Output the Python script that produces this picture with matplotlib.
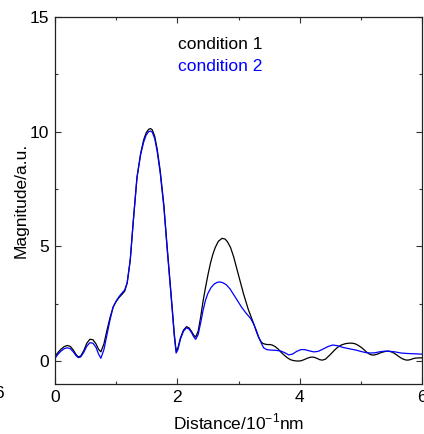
import matplotlib
matplotlib.use("Agg")
import matplotlib.pyplot as plt
from matplotlib.ticker import MultipleLocator

plt.rcParams['font.family'] = ['Liberation Sans', 'DejaVu Sans']
plt.rcParams['mathtext.fontset'] = 'custom'
plt.rcParams['mathtext.rm'] = 'Liberation Sans'

# condition 1 (black)
x1 = [0.00, 0.05, 0.10, 0.15, 0.20, 0.25, 0.30, 0.34, 0.38, 0.42, 0.47, 0.52, 0.57,
      0.62, 0.67, 0.71, 0.75, 0.80, 0.85, 0.90, 0.95, 1.00, 1.05, 1.10, 1.14, 1.18,
      1.23, 1.28, 1.34, 1.40, 1.45, 1.49, 1.53, 1.56, 1.59, 1.63, 1.67, 1.72, 1.78,
      1.83, 1.88, 1.92, 1.95, 1.98, 2.01, 2.05, 2.10, 2.15, 2.19, 2.23, 2.27, 2.30,
      2.34, 2.38, 2.42, 2.46, 2.50, 2.54, 2.58, 2.62, 2.67, 2.73, 2.78, 2.82, 2.87,
      2.92, 2.96, 3.00, 3.04, 3.08, 3.12, 3.16, 3.21, 3.25, 3.29, 3.33, 3.36, 3.39,
      3.43, 3.47, 3.51, 3.55, 3.60, 3.65, 3.69, 3.75, 3.80, 3.85, 3.90, 3.96, 4.02,
      4.08, 4.13, 4.18, 4.23, 4.28, 4.33, 4.37, 4.42, 4.50, 4.56, 4.62, 4.68, 4.75,
      4.81, 4.86, 4.91, 4.96, 5.01, 5.05, 5.09, 5.13, 5.17, 5.21, 5.27, 5.33, 5.40,
      5.46, 5.52, 5.58, 5.63, 5.68, 5.73, 5.77, 5.82, 5.86, 5.90, 5.95, 6.00]
y1 = [0.20, 0.38, 0.52, 0.63, 0.68, 0.64, 0.48, 0.30, 0.18, 0.22, 0.45, 0.78, 0.95,
      0.93, 0.75, 0.52, 0.40, 0.75, 1.35, 1.90, 2.35, 2.60, 2.78, 2.92, 3.05, 3.40,
      4.40, 6.10, 8.00, 9.05, 9.65, 9.95, 10.10, 10.14, 10.08, 9.80, 9.25, 8.30, 6.80,
      5.10, 3.50, 2.20, 1.20, 0.45, 0.58, 1.00, 1.35, 1.50, 1.45, 1.30, 1.12, 1.05,
      1.30, 1.90, 2.60, 3.20, 3.75, 4.25, 4.65, 4.95, 5.22, 5.35, 5.32, 5.20, 4.95,
      4.55, 4.15, 3.75, 3.35, 2.95, 2.60, 2.25, 1.90, 1.62, 1.30, 1.02, 0.88, 0.78,
      0.74, 0.72, 0.72, 0.70, 0.63, 0.52, 0.40, 0.25, 0.14, 0.06, 0.02, 0.00, 0.01,
      0.07, 0.13, 0.17, 0.17, 0.12, 0.06, 0.04, 0.08, 0.28, 0.45, 0.60, 0.70, 0.76,
      0.78, 0.78, 0.75, 0.68, 0.59, 0.50, 0.40, 0.32, 0.27, 0.26, 0.30, 0.37, 0.42,
      0.43, 0.38, 0.28, 0.18, 0.10, 0.05, 0.04, 0.07, 0.11, 0.13, 0.14, 0.14]

# condition 2 (blue)
x2 = [0.00, 0.05, 0.10, 0.15, 0.20, 0.25, 0.30, 0.34, 0.38, 0.42, 0.47, 0.52, 0.57,
      0.62, 0.67, 0.71, 0.75, 0.80, 0.85, 0.90, 0.95, 1.00, 1.05, 1.10, 1.14, 1.18,
      1.23, 1.28, 1.34, 1.40, 1.45, 1.49, 1.53, 1.56, 1.59, 1.63, 1.67, 1.72, 1.78,
      1.83, 1.88, 1.92, 1.95, 1.98, 2.01, 2.05, 2.10, 2.15, 2.19, 2.23, 2.27, 2.30,
      2.34, 2.38, 2.42, 2.46, 2.50, 2.55, 2.60, 2.65, 2.69, 2.74, 2.80, 2.86, 2.92,
      2.98, 3.05, 3.12, 3.20, 3.25, 3.29, 3.33, 3.37, 3.41, 3.46, 3.52, 3.60, 3.69,
      3.76, 3.82, 3.88, 3.95, 4.02, 4.08, 4.15, 4.23, 4.30, 4.38, 4.46, 4.54, 4.62,
      4.70, 4.77, 4.84, 4.92, 5.00, 5.08, 5.16, 5.23, 5.30, 5.38, 5.46, 5.56, 5.66,
      5.76, 5.85, 5.93, 6.00]
y2 = [0.12, 0.30, 0.44, 0.54, 0.58, 0.54, 0.40, 0.25, 0.15, 0.18, 0.38, 0.65, 0.80,
      0.78, 0.60, 0.32, 0.12, 0.50, 1.15, 1.80, 2.35, 2.62, 2.82, 2.98, 3.10, 3.42,
      4.40, 6.10, 8.00, 9.00, 9.55, 9.85, 10.00, 10.03, 9.98, 9.70, 9.15, 8.20, 6.70,
      5.00, 3.40, 2.10, 1.10, 0.35, 0.50, 0.95, 1.30, 1.45, 1.40, 1.25, 1.05, 0.95,
      1.15, 1.65, 2.20, 2.65, 2.95, 3.20, 3.35, 3.43, 3.45, 3.42, 3.33, 3.15, 2.90,
      2.65, 2.35, 2.10, 1.85, 1.60, 1.35, 1.05, 0.80, 0.58, 0.50, 0.48, 0.47, 0.44,
      0.36, 0.27, 0.30, 0.42, 0.50, 0.50, 0.45, 0.40, 0.42, 0.52, 0.63, 0.70, 0.67,
      0.60, 0.56, 0.52, 0.48, 0.42, 0.37, 0.35, 0.36, 0.40, 0.43, 0.43, 0.40, 0.35,
      0.33, 0.32, 0.31, 0.30]

fig = plt.figure(figsize=(4.24, 4.34), dpi=100)
ax = fig.add_axes([55 / 424, 1 - 384 / 434, 367 / 424, 367 / 434])

ax.plot(x1, y1, color='black', lw=0.9, solid_joinstyle='round')
ax.plot(x2, y2, color='#0000ff', lw=0.9, solid_joinstyle='round')

ax.set_xlim(0, 6)
ax.set_ylim(-1, 15)
ax.set_xticks([0, 2, 4, 6])
ax.set_yticks([0, 5, 10, 15])
ax.xaxis.set_minor_locator(MultipleLocator(1))
ax.yaxis.set_minor_locator(MultipleLocator(2.5))
ax.tick_params(which='both', direction='in', top=True, right=True, labelsize=12.5,
               width=0.8, color='#333333', pad=4)
ax.tick_params(which='major', length=4)
ax.tick_params(which='minor', length=2.5)
for s in ax.spines.values():
    s.set_linewidth(0.9)
    s.set_color('#222222')

ax.set_xlabel('Distance/10$^{-1}$nm', fontsize=12.5, labelpad=5)
ax.set_ylabel('Magnitude/a.u.', fontsize=12.5, labelpad=1)

ax.text(0.335, 0.925, 'condition 1', transform=ax.transAxes, fontsize=12.5,
        color='black', va='center')
ax.text(0.335, 0.865, 'condition 2', transform=ax.transAxes, fontsize=12.5,
        color='#0000ff', va='center')

# stray tick label from a neighbouring panel
fig.text(-0.014, 1 - 394 / 434, '6', fontsize=12.5, va='center', ha='left')

fig.savefig('out.png', dpi=100)
